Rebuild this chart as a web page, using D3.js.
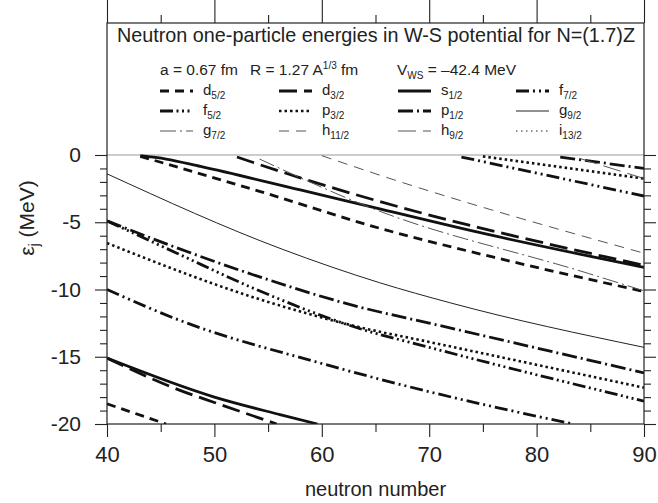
<!DOCTYPE html>
<html>
<head>
<meta charset="utf-8">
<script src="https://cdn.jsdelivr.net/npm/d3@7"></script>
<style>
body { margin: 0; background: #fff; }
svg { display: block; }
text { font-family: "Liberation Sans", Arial, Helvetica, sans-serif; fill: #222; }
</style>
</head>
<body>
<div id="chart"></div>
<script>
// Neutron one-particle levels in a W-S well, N=(1.7)Z
// points are [neutron number, energy in MeV]

// deep levels
var d52_1 = [[40,-18.5],[45.5,-20]];
var d32_1 = [[40,-15.1],[46.8,-17.5],[50,-18.4],[55.8,-20]];
var s12_2 = [[40,-15.1],[50,-18.0],[56.1,-19.3],[59.6,-20]];
var f72_1 = [[40,-10.0],[46.8,-12.3],[60,-15.5],[70,-17.6],[83.4,-20]];
var f52_1 = [[40,-4.9],[46.5,-7.3],[53.9,-10.0],[63.5,-12.9],[70,-14.3],[90,-18.3]];
var p32_2 = [[40,-6.55],[53.9,-10.65],[63.5,-12.8],[70,-13.9],[90,-17.3]];
var p12_2 = [[40,-4.9],[46.5,-6.9],[53.6,-8.9],[63.5,-11.3],[70,-12.5],[90,-16.2]];
var g92_1 = [[40,-1.4],[56.3,-7.0],[65.4,-9.5],[72,-11.0],[90,-14.3]];

// levels coming in from threshold
var d52_2 = [[43.1,-0.1],[54.2,-2.7],[65.4,-5.45],[76,-7.6],[90,-10.15]];
var s12_3 = [[43.1,-0.05],[45.5,-0.3],[48.7,-0.85],[58,-2.6],[65.4,-4.0],[76,-6.0],[90,-8.35]];
var d32_2 = [[52.1,-0.15],[58,-1.7],[63.6,-3.05],[90,-8.2]];
var g72_1 = [[54.2,-0.3],[64.8,-4.0],[84.8,-8.8],[90,-10.1]];
var h112_1 = [[60,-0.05],[65.4,-1.5],[90,-7.3]];
var f72_2 = [[73,-0.15],[90,-3.05]];
var p32_3 = [[75,-0.1],[90,-1.75]];
var p12_3 = [[82.2,-0.15],[90,-1.0]];
var h92_1 = [[84,-0.25],[90,-1.75]];

var legendKeys = ["d5/2","d3/2","s1/2","f7/2",
                  "f5/2","p3/2","p1/2","g9/2",
                  "g7/2","h11/2","h9/2","i13/2"];

var xTicks = [40, 50, 60, 70, 80, 90];
var yTicks = [0, -5, -10, -15, -20];

// line style per level (j-shell)
var styles = {
    "d5/2":  {w: 2.8, dash: "9,6",                     c: "#111"},
    "d3/2":  {w: 2.8, dash: "18,7",                    c: "#111"},
    "s1/2":  {w: 2.8, dash: null,                      c: "#111"},
    "f7/2":  {w: 2.8, dash: "13,4,2,4,2,4",            c: "#111"},
    "f5/2":  {w: 2.8, dash: "13,3.5,2,3.5,2,3.5,2,3.5", c: "#111"},
    "p3/2":  {w: 2.6, dash: "2.5,3",                   c: "#111"},
    "p1/2":  {w: 2.8, dash: "15,4,2,4",                c: "#111"},
    "g9/2":  {w: 1,   dash: null,                      c: "#222"},
    "g7/2":  {w: 1,   dash: "16,4,2,4",                c: "#555"},
    "h11/2": {w: 1,   dash: "10,7",                    c: "#555"},
    "h9/2":  {w: 1,   dash: "18,7",                    c: "#555"},
    "i13/2": {w: 1.2, dash: "1.5,3.5",                 c: "#222"}
};

var curves = [
    {key: "d5/2", pts: d52_1}, {key: "d3/2", pts: d32_1}, {key: "s1/2", pts: s12_2},
    {key: "f7/2", pts: f72_1}, {key: "f5/2", pts: f52_1}, {key: "p3/2", pts: p32_2},
    {key: "p1/2", pts: p12_2}, {key: "g9/2", pts: g92_1},
    {key: "d5/2", pts: d52_2}, {key: "s1/2", pts: s12_3}, {key: "d3/2", pts: d32_2},
    {key: "g7/2", pts: g72_1}, {key: "h11/2", pts: h112_1}, {key: "f7/2", pts: f72_2},
    {key: "p3/2", pts: p32_3}, {key: "p1/2", pts: p12_3}, {key: "h9/2", pts: h92_1}
];

var svgWidth = 658;
var svgHeight = 503;
var frameTop = 23;

var svg = d3.select("#chart")
    .append("svg")
    .attr("width", svgWidth)
    .attr("height", svgHeight);

var x = d3.scaleLinear().domain([40, 90]).range([107, 644]);
var y = d3.scaleLinear().domain([-20, 0]).range([424, 155]);

svg.append("clipPath").attr("id", "plotclip")
    .append("rect")
    .attr("x", x(40)).attr("y", frameTop)
    .attr("width", x(90) - x(40)).attr("height", y(-20) - frameTop);

// zero line
svg.append("line")
    .attr("x1", x(40)).attr("x2", x(90))
    .attr("y1", y(0)).attr("y2", y(0))
    .attr("stroke", "#999").attr("stroke-width", 1);

// curves
var line = d3.line()
    .x(d => x(d[0]))
    .y(d => y(d[1]))
    .curve(d3.curveMonotoneX);

svg.append("g").attr("clip-path", "url(#plotclip)")
    .selectAll("path")
    .data(curves)
    .enter()
    .append("path")
    .attr("d", d => line(d.pts))
    .attr("fill", "none")
    .attr("stroke", d => styles[d.key].c)
    .attr("stroke-width", d => styles[d.key].w)
    .attr("stroke-dasharray", d => styles[d.key].dash);

// axes
var minorX = d3.range(45, 90, 10);
var minorY = d3.range(-19, 0).filter(v => v % 5 !== 0);

function styleAxis(g) {
    g.select(".domain").remove();
    g.selectAll("line").attr("stroke", "#222").attr("stroke-width", 1.1);
    g.selectAll("text")
        .style("font-family", '"Liberation Sans", Arial, Helvetica, sans-serif')
        .attr("fill", "#222");
}

svg.append("g").attr("transform", `translate(0,${y(-20)})`)
    .call(d3.axisBottom(x).tickValues(xTicks).tickSize(13).tickPadding(9).tickFormat(d => String(d)))
    .call(styleAxis)
    .selectAll("text").style("font-size", "22px");
svg.append("g").attr("transform", `translate(0,${y(-20)})`)
    .call(d3.axisBottom(x).tickValues(minorX).tickSize(8).tickFormat(""))
    .call(styleAxis);

svg.append("g").attr("transform", `translate(0,${frameTop})`)
    .call(d3.axisTop(x).tickValues(xTicks).tickSize(23).tickFormat(""))
    .call(styleAxis);
svg.append("g").attr("transform", `translate(0,${frameTop})`)
    .call(d3.axisTop(x).tickValues(minorX).tickSize(8).tickFormat(""))
    .call(styleAxis);

svg.append("g").attr("transform", `translate(${x(40)},0)`)
    .call(d3.axisLeft(y).tickValues(yTicks).tickSize(12).tickPadding(14).tickFormat(d => String(d)))
    .call(styleAxis)
    .selectAll("text").style("font-size", "21px");
svg.append("g").attr("transform", `translate(${x(40)},0)`)
    .call(d3.axisLeft(y).tickValues(minorY).tickSize(7).tickFormat(""))
    .call(styleAxis);

svg.append("g").attr("transform", `translate(${x(90)},0)`)
    .call(d3.axisRight(y).tickValues(yTicks).tickSize(12).tickFormat(""))
    .call(styleAxis);
svg.append("g").attr("transform", `translate(${x(90)},0)`)
    .call(d3.axisRight(y).tickValues(minorY).tickSize(7).tickFormat(""))
    .call(styleAxis);

// frame
svg.append("rect")
    .attr("x", x(40)).attr("y", frameTop)
    .attr("width", x(90) - x(40)).attr("height", y(-20) - frameTop)
    .attr("fill", "none").attr("stroke", "#222").attr("stroke-width", 1.2);

// axis titles
svg.append("text")
    .attr("x", (x(40) + x(90)) / 2).attr("y", 496)
    .attr("text-anchor", "middle")
    .style("font-size", "20px")
    .text("neutron number");

var yt = svg.append("text")
    .attr("transform", "translate(34,218) rotate(-90)")
    .attr("text-anchor", "middle")
    .style("font-size", "21px");
yt.append("tspan").text("ε");
yt.append("tspan").attr("dy", 5).style("font-size", "14px").text("j");
yt.append("tspan").attr("dy", -5).text("  (MeV)");

// legend
svg.append("text")
    .attr("x", 376).attr("y", 42)
    .attr("text-anchor", "middle")
    .style("font-size", "19.8px")
    .text("Neutron one-particle energies in W-S potential for N=(1.7)Z");

var p1 = svg.append("text").attr("x", 160).attr("y", 75).style("font-size", "15.5px");
p1.text("a = 0.67 fm");

var p2 = svg.append("text").attr("x", 250).attr("y", 75).style("font-size", "15.5px");
p2.append("tspan").text("R = 1.27 A");
p2.append("tspan").attr("dy", -6).style("font-size", "10px").text("1/3");
p2.append("tspan").attr("dy", 6).text(" fm");

var p3 = svg.append("text").attr("x", 397).attr("y", 75).style("font-size", "15.5px");
p3.append("tspan").text("V");
p3.append("tspan").attr("dy", 4).style("font-size", "10px").text("WS");
p3.append("tspan").attr("dy", -4).text(" = \u201342.4 MeV");

var colX = [160, 279, 398, 516];
var rowY = [91, 111, 131];

var items = svg.append("g").selectAll("g")
    .data(legendKeys)
    .enter()
    .append("g")
    .attr("transform", (d, i) => `translate(${colX[i % 4]},${rowY[Math.floor(i / 4)]})`);

items.append("line")
    .attr("x1", 0).attr("x2", 33)
    .attr("y1", 0).attr("y2", 0)
    .attr("stroke", d => styles[d].c)
    .attr("stroke-width", d => styles[d].w)
    .attr("stroke-dasharray", d => styles[d].dash);

var lbl = items.append("text")
    .attr("x", 43).attr("y", 4)
    .style("font-size", "15px");
lbl.append("tspan").text(d => d[0]);
lbl.append("tspan").attr("dy", 4).style("font-size", "10px").text(d => d.slice(1));
</script>
</body>
</html>
